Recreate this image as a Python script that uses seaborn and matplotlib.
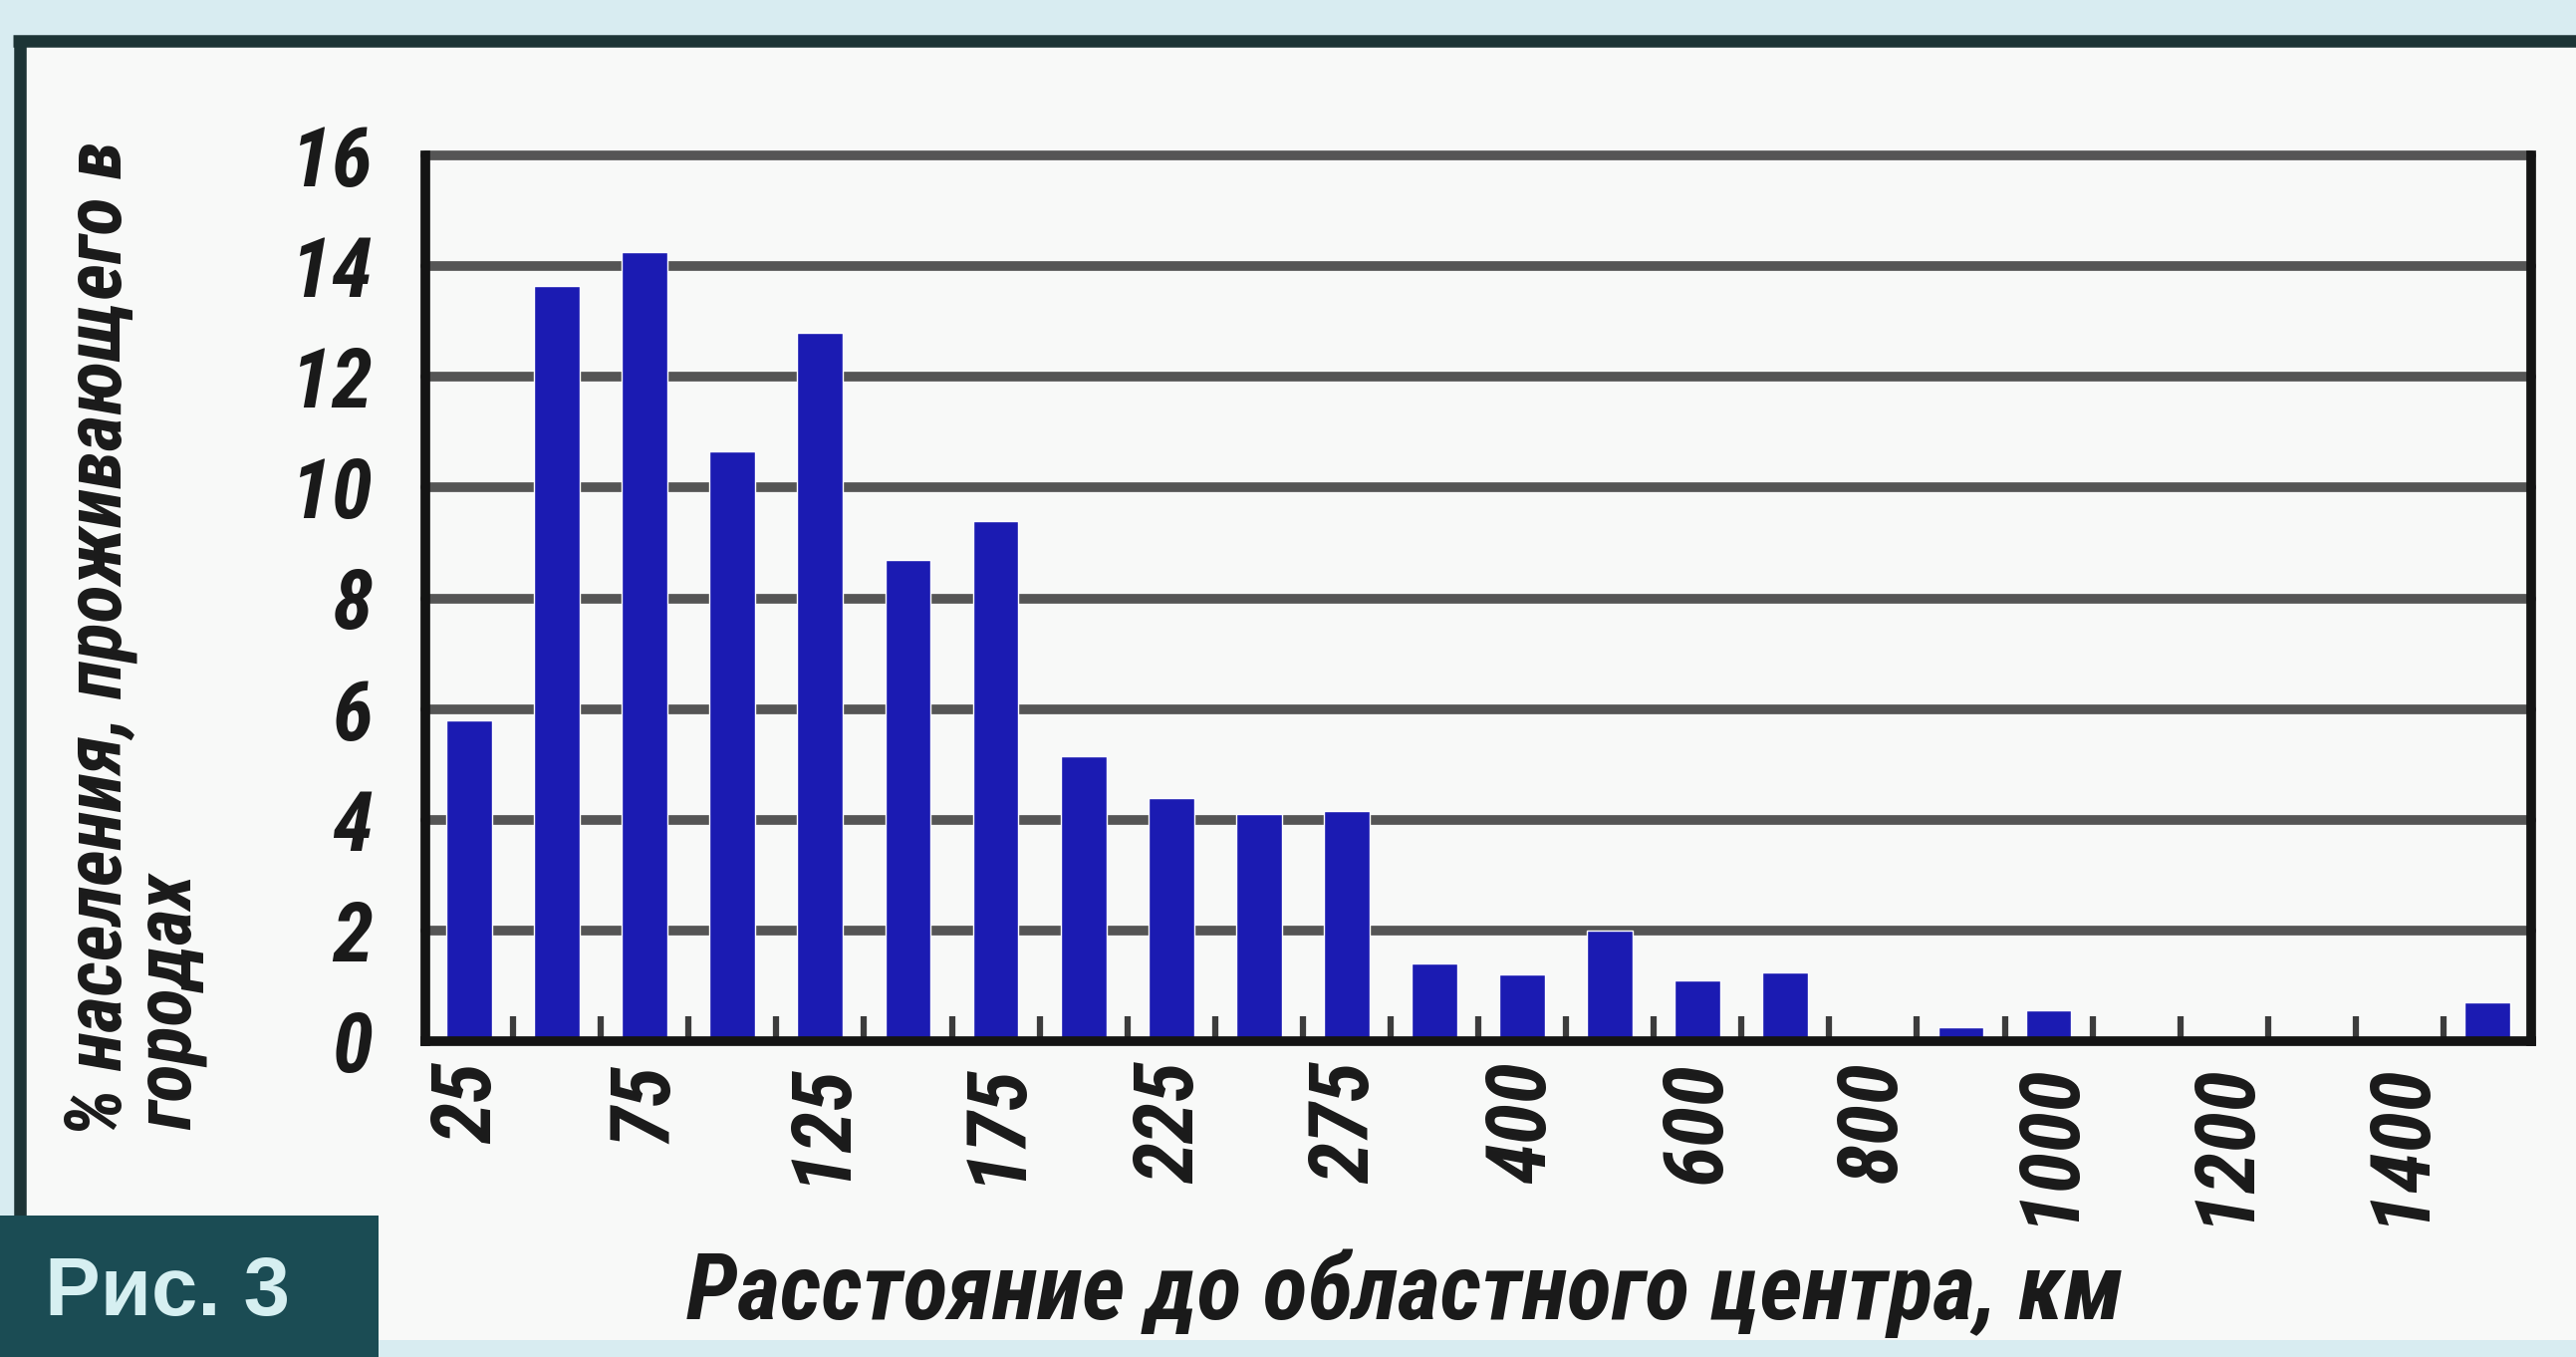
import os
import numpy as np
import pandas as pd
import matplotlib
matplotlib.use("Agg")
import matplotlib.pyplot as plt
from matplotlib import font_manager as fm
from matplotlib.patches import Rectangle
from matplotlib.lines import Line2D
import seaborn as sns

# Distance bins to the regional centre, km
distance_km = [25, 50, 75, 100, 125, 150, 175, 200, 225, 250, 275, 300,
               400, 500, 600, 700, 800, 900, 1000, 1100, 1200, 1300, 1400, 1500]
# Share of the urban population living in each distance bin, %
population_pct = [5.8, 13.65, 14.25, 10.65, 12.8, 8.7, 9.4, 5.15, 4.4, 4.1, 4.15, 1.4,
                  1.2, 2.0, 1.1, 1.25, 0.0, 0.25, 0.55, 0.0, 0.0, 0.0, 0.0, 0.7]
shown_x_labels = [str(d) for d in distance_km[::2]]
y_ticks = [0, 2, 4, 6, 8, 10, 12, 14, 16]

x_title = "Расстояние до областного центра, км"
y_title_line1 = "% населения, проживающего в"
y_title_line2 = "городах"
fig_caption = "Рис. 3"

sns.set_theme(style="white")

# look for a narrow bold italic face for the hand-lettered labels
font_files = fm.findSystemFonts() + [f.fname for f in fm.fontManager.ttflist]
preferences = [
    ("robotocondensed", "bolditalic"),
    ("notosans-condensedbolditalic",),
    ("dejavusanscondensed-boldoblique",),
    ("liberationsansnarrow-bolditalic",),
    ("opensans", "condensed", "bolditalic"),
    ("condensed", "bold", "italic"),
    ("narrow", "bold", "italic"),
    ("condensed", "bold", "oblique"),
    ("robotocondensed", "italic"),
    ("condensed", "italic"),
]
narrow_file = None
for keys in preferences:
    for fn in font_files:
        base = os.path.basename(fn).lower()
        if all(k in base for k in keys):
            narrow_file = fn
            break
    if narrow_file:
        break

if narrow_file:
    size_k = 1.0

    def hand_font(size):
        return fm.FontProperties(fname=narrow_file, size=size * size_k)
else:
    size_k = 0.72

    def hand_font(size):
        return fm.FontProperties(family=["DejaVu Sans"], style="oblique",
                                 weight="bold", size=size * size_k)

plt.rcParams["font.family"] = ["DejaVu Sans"]

W, H = 2586, 1362
INK = "#1a1a1a"
BAR = "#1b1bb2"
GRID = "#555555"

fig = plt.figure(figsize=(W / 100, H / 100), dpi=100)
fig.patch.set_facecolor("#d8ecf1")

# white page with a dark frame
fig.add_artist(Rectangle((20 / W, 1 - 1345 / H), 1 - 20 / W, (1345 - 42) / H,
                         transform=fig.transFigure, facecolor="#f8f9f8",
                         edgecolor="none", zorder=0))
fig.add_artist(Line2D([13 / W, 1], [1 - 41 / H, 1 - 41 / H], transform=fig.transFigure,
                      color="#1d3436", lw=9, solid_capstyle="butt", zorder=1))
fig.add_artist(Line2D([20 / W, 20 / W], [1 - 36 / H, 1 - 1222 / H],
                      transform=fig.transFigure, color="#1d3436", lw=9,
                      solid_capstyle="butt", zorder=1))

# caption box
fig.add_artist(Rectangle((0, 0), 380 / W, (H - 1220) / H, transform=fig.transFigure,
                         facecolor="#1b4c54", edgecolor="none", zorder=2))
fig.text(45 / W, 1 - 1320 / H, fig_caption, color="#d6eff1", fontsize=60,
         fontweight="bold", family=["Liberation Sans", "DejaVu Sans"],
         va="baseline", ha="left", zorder=3)

ax = fig.add_axes([427 / W, 1 - 1045 / H, (2541 - 427) / W, (1045 - 156) / H])
ax.set_facecolor("none")

df = pd.DataFrame({"distance": [str(d) for d in distance_km], "pct": population_pct})
sns.barplot(data=df, x="distance", y="pct", order=list(df["distance"]), color=BAR,
            saturation=1, width=0.52, ax=ax, zorder=2)

ax.set_xlim(-0.5, len(distance_km) - 0.5)
ax.set_ylim(0, 16)

for v in y_ticks[1:]:
    ax.axhline(v, color=GRID, lw=7, clip_on=False, zorder=1)

ax.spines["top"].set_visible(False)
for side in ("left", "bottom", "right"):
    ax.spines[side].set_visible(True)
    ax.spines[side].set_color("#141414")
    ax.spines[side].set_linewidth(7)
    ax.spines[side].set_zorder(3)

ax.set_yticks(y_ticks)
ax.set_yticklabels([str(v) for v in y_ticks])
ax.tick_params(axis="y", length=0, pad=38, colors=INK)

ax.set_xticks(range(0, len(distance_km), 2))
ax.set_xticklabels(shown_x_labels, rotation=90)
ax.set_xticks(np.arange(0.5, len(distance_km) - 1, 1), minor=True)
ax.tick_params(axis="x", which="major", length=0, pad=15, colors=INK, bottom=True)
ax.tick_params(axis="x", which="minor", direction="in", length=18, width=4.5,
               color="#3c3c3c", bottom=True)

for lab in ax.get_xticklabels() + ax.get_yticklabels():
    lab.set_fontproperties(hand_font(60))
    lab.set_color(INK)

ax.set_xlabel(x_title, fontproperties=hand_font(67), color=INK)
ax.xaxis.set_label_coords((1410 - 427) / (2541 - 427), -(1298 - 1045) / (1045 - 156))
ax.xaxis.label.set_verticalalignment("center")
ax.set_ylabel("")

fig.text(122 / W, 1 - 1141 / H, y_title_line1, fontproperties=hand_font(57), color=INK,
         rotation=90, rotation_mode="anchor", ha="left", va="baseline")
fig.text(192 / W, 1 - 1134 / H, y_title_line2, fontproperties=hand_font(57), color=INK,
         rotation=90, rotation_mode="anchor", ha="left", va="baseline")

fig.savefig("out.png", dpi=100, facecolor=fig.get_facecolor())
